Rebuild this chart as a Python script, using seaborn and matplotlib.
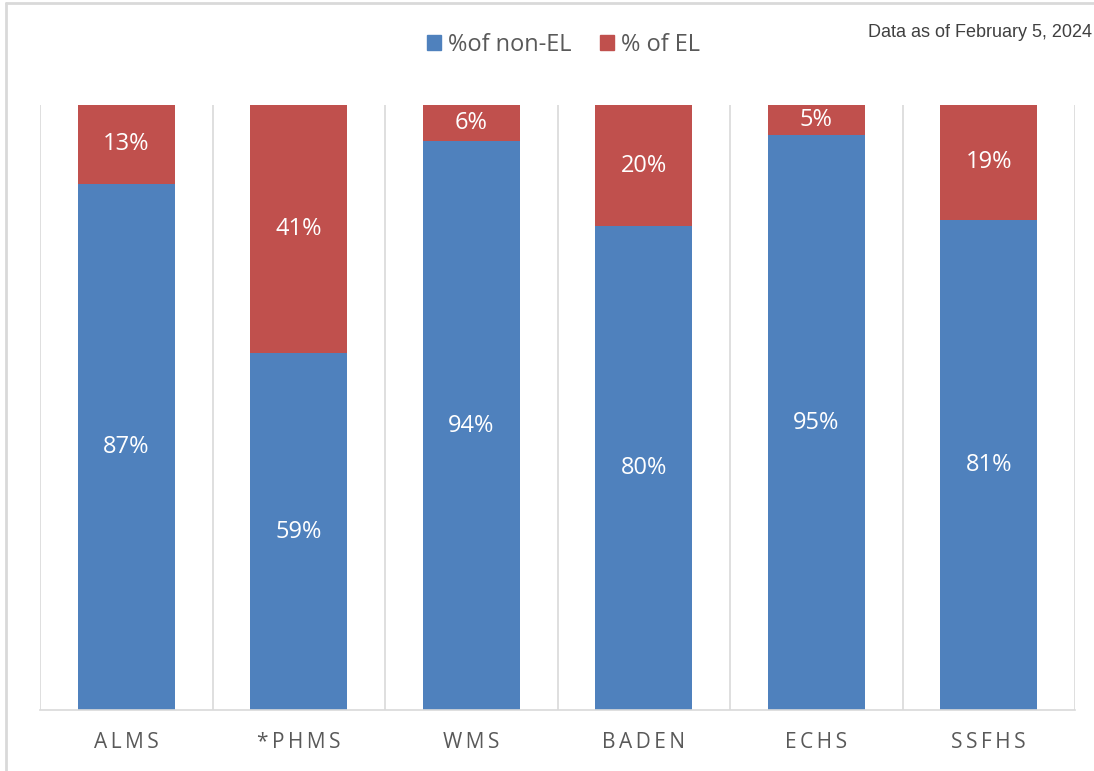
import pandas as pd
import matplotlib.pyplot as plt
import seaborn as sns
from matplotlib.patches import Patch
from matplotlib.lines import Line2D

# chart data
schools = ["ALMS", "*PHMS", "WMS", "BADEN", "ECHS", "SSFHS"]
pct_non_el = [87, 59, 94, 80, 95, 81]
pct_el = [13, 41, 6, 20, 5, 19]

BLUE = "#4F81BD"
RED = "#C0504D"
GRID = "#D9D9D9"
TEXT = "#595959"

sns.set_style("white")
plt.rcParams['font.family'] = ['Open Sans', 'DejaVu Sans']

df = pd.DataFrame({"school": schools, "non_el": pct_non_el, "el": pct_el})
df["total"] = df["non_el"] + df["el"]

fig = plt.figure(figsize=(10.94, 7.71), dpi=100)
ax = fig.add_axes([40 / 1094, 1 - 710 / 771, (1075 - 40) / 1094, (710 - 105) / 771])

# red (EL) drawn as full height, blue (non-EL) on top of it
sns.barplot(data=df, x="school", y="total", color=RED, width=0.56,
            saturation=1, linewidth=0, ax=ax)
sns.barplot(data=df, x="school", y="non_el", color=BLUE, width=0.56,
            saturation=1, linewidth=0, ax=ax)

ax.set_ylim(0, 100)
ax.set_xlim(-0.5, len(schools) - 0.5)
ax.set_xlabel("")
ax.set_ylabel("")
ax.set_yticks([])

# vertical separators between categories
for i in range(len(schools) + 1):
    ax.axvline(i - 0.5, color=GRID, lw=1.2, zorder=0)

for side in ["top", "right", "left"]:
    ax.spines[side].set_visible(False)
ax.spines["bottom"].set_color(GRID)
ax.spines["bottom"].set_linewidth(1.2)

# letter-spaced tick labels
ax.set_xticks(range(len(schools)))
ax.set_xticklabels(["\u2009".join(s) for s in schools], color=TEXT, fontsize=15)
ax.tick_params(axis="x", length=0, pad=16)

# value labels
for i, (ne, e) in enumerate(zip(pct_non_el, pct_el)):
    ax.text(i, ne / 2, f"{ne}%", ha="center", va="center", color="white", fontsize=17)
    ax.text(i, ne + e / 2, f"{e}%", ha="center", va="center", color="white", fontsize=17)

handles = [Patch(color=BLUE, label="%of non-EL"), Patch(color=RED, label="% of EL")]
fig.legend(handles=handles, loc="center", bbox_to_anchor=(0.515, 0.942), ncol=2,
           frameon=False, fontsize=17, labelcolor=TEXT, handlelength=0.6,
           handleheight=0.6, handletextpad=0.3, columnspacing=1.2)

fig.text(0.998, 0.958, "Data as of February 5, 2024", ha="right", va="center",
         fontsize=13, color="#404040", family=["Liberation Sans", "DejaVu Sans"])

# light frame on top and left edges
fig.add_artist(Line2D([6 / 1094, 6 / 1094], [0, 1 - 3 / 771], color=GRID, lw=2,
                      transform=fig.transFigure))
fig.add_artist(Line2D([6 / 1094, 1], [1 - 3 / 771, 1 - 3 / 771], color=GRID, lw=2,
                      transform=fig.transFigure))

fig.savefig("out.png", dpi=100)
